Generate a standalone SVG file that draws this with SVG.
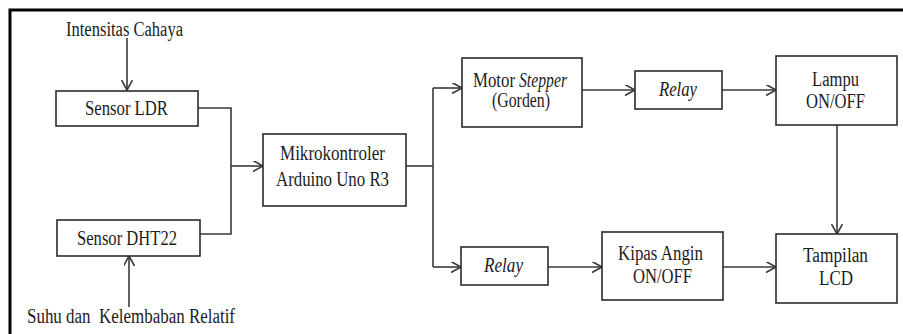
<svg xmlns="http://www.w3.org/2000/svg" width="903" height="334" viewBox="0 0 903 334">
  <style>
    .box { fill: #ffffff; stroke: #2b2b2b; stroke-width: 1.6; }
    .lbl { font-family: 'Liberation Serif', 'DejaVu Serif', serif; font-size: 20px; fill: #1c1c1c; }
    .it { font-style: italic; }
    .wire { fill: none; stroke: #3a3a3a; stroke-width: 1.6; }
    .frame { fill: none; stroke: #000000; stroke-width: 3; }
  </style>
  <defs>
    <marker id="arrow" markerUnits="userSpaceOnUse" markerWidth="12" markerHeight="12" refX="10" refY="5.5" orient="auto">
      <path d="M0,0 L10,5.5 L0,11" fill="none" stroke="#3a3a3a" stroke-width="1.6"/>
    </marker>
  </defs>

  <rect width="903" height="334" fill="#ffffff"/>
  <path class="frame" d="M10,334 V10 H903"/>

  <g id="connectors">
    <path class="wire" d="M127,38 V90" marker-end="url(#arrow)"/>
    <path class="wire" d="M129,307 V256" marker-end="url(#arrow)"/>
    <path class="wire" d="M198,108 H231 V234 H200"/>
    <path class="wire" d="M231,166 H263" marker-end="url(#arrow)"/>
    <path class="wire" d="M406,166 H433"/>
    <path class="wire" d="M433,88 V267"/>
    <path class="wire" d="M433,88 H462" marker-end="url(#arrow)"/>
    <path class="wire" d="M433,267 H461" marker-end="url(#arrow)"/>
    <path class="wire" d="M582,90 H635" marker-end="url(#arrow)"/>
    <path class="wire" d="M722,90 H776" marker-end="url(#arrow)"/>
    <path class="wire" d="M837,125 V234" marker-end="url(#arrow)"/>
    <path class="wire" d="M548,267 H602" marker-end="url(#arrow)"/>
    <path class="wire" d="M723,267 H776" marker-end="url(#arrow)"/>
  </g>

  <g id="input-light">
    <text class="lbl" font-family="Liberation Serif, serif" x="66" y="36" textLength="117" lengthAdjust="spacingAndGlyphs">Intensitas Cahaya</text>
  </g>
  <g id="input-climate">
    <text class="lbl" font-family="Liberation Serif, serif" x="27" y="323" textLength="208" lengthAdjust="spacingAndGlyphs" xml:space="preserve">Suhu dan  Kelembaban Relatif</text>
  </g>

  <g id="sensor-ldr">
    <rect class="box" x="56" y="91" width="142" height="35"/>
    <text class="lbl" x="85" y="115" textLength="83" lengthAdjust="spacingAndGlyphs">Sensor LDR</text>
  </g>
  <g id="sensor-dht22">
    <rect class="box" x="57" y="220" width="143" height="36"/>
    <text class="lbl" x="77" y="245" textLength="100" lengthAdjust="spacingAndGlyphs">Sensor DHT22</text>
  </g>
  <g id="mikrokontroler">
    <rect class="box" x="263" y="134" width="143" height="72"/>
    <text class="lbl" x="280" y="160" textLength="105" lengthAdjust="spacingAndGlyphs">Mikrokontroler</text>
    <text class="lbl" x="276" y="186" textLength="113" lengthAdjust="spacingAndGlyphs">Arduino Uno R3</text>
  </g>
  <g id="motor-stepper">
    <rect class="box" x="462" y="58" width="120" height="69"/>
    <text class="lbl" x="473" y="87" textLength="42" lengthAdjust="spacingAndGlyphs">Motor</text>
    <text class="lbl it" x="519" y="87" textLength="48" lengthAdjust="spacingAndGlyphs">Stepper</text>
    <text class="lbl" x="492" y="107" textLength="58" lengthAdjust="spacingAndGlyphs">(Gorden)</text>
  </g>
  <g id="relay-lampu">
    <rect class="box" x="635" y="71" width="87" height="38"/>
    <text class="lbl it" x="659" y="96" textLength="38" lengthAdjust="spacingAndGlyphs">Relay</text>
  </g>
  <g id="lampu">
    <rect class="box" x="776" y="56" width="121" height="69"/>
    <text class="lbl" x="812" y="86" textLength="47" lengthAdjust="spacingAndGlyphs">Lampu</text>
    <text class="lbl" x="806" y="108" textLength="59" lengthAdjust="spacingAndGlyphs">ON/OFF</text>
  </g>
  <g id="relay-kipas">
    <rect class="box" x="461" y="247" width="87" height="38"/>
    <text class="lbl it" x="484" y="272" textLength="39" lengthAdjust="spacingAndGlyphs">Relay</text>
  </g>
  <g id="kipas-angin">
    <rect class="box" x="602" y="232" width="121" height="68"/>
    <text class="lbl" x="618" y="260" textLength="85" lengthAdjust="spacingAndGlyphs">Kipas Angin</text>
    <text class="lbl" x="633" y="283" textLength="59" lengthAdjust="spacingAndGlyphs">ON/OFF</text>
  </g>
  <g id="tampilan-lcd">
    <rect class="box" x="776" y="234" width="121" height="69"/>
    <text class="lbl" x="803" y="262" textLength="65" lengthAdjust="spacingAndGlyphs">Tampilan</text>
    <text class="lbl" x="819" y="285" textLength="34" lengthAdjust="spacingAndGlyphs">LCD</text>
  </g>
</svg>
